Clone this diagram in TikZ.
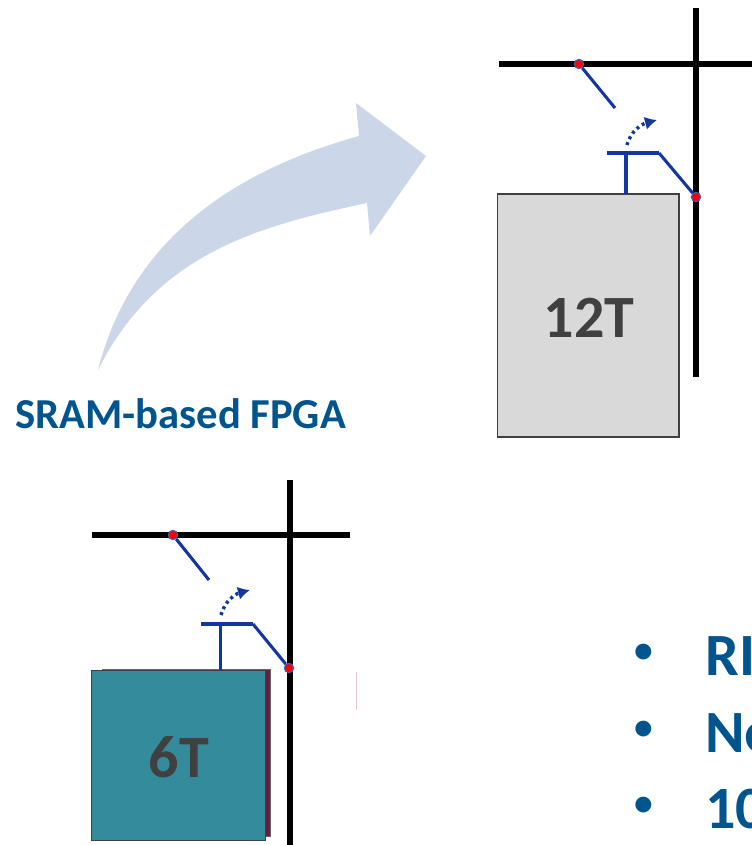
\documentclass[tikz,border=0pt]{standalone}
\usepackage{fontspec}
\setmainfont{Carlito}
\usetikzlibrary{arrows.meta}
\definecolor{titleblue}{HTML}{00558F}
\definecolor{swtblue}{HTML}{1238A0}
\definecolor{curvefill}{HTML}{CBD6E8}
\definecolor{lutgrey}{HTML}{D9D9D9}
\definecolor{lutteal}{HTML}{338B9B}
\definecolor{lutshadow}{HTML}{6A1F3A}
\definecolor{lutedge}{HTML}{404040}
\tikzset{
  wire/.style={line width=3.8pt,black},
  swt/.style={line width=2.3pt,swtblue},
  swtbar/.style={line width=3.2pt,swtblue},
  junction/.style={circle,fill=red,draw=swtblue!80,line width=0.8pt,inner sep=0pt,minimum size=7pt},
  lutbox/.style={draw=lutedge,line width=1pt,inner sep=0pt},
  lutlabel/.style={text=lutedge,font=\fontsize{45}{45}\bfseries},
  flip/.style={line width=2.6pt,swtblue,dash pattern=on 2.2pt off 2.6pt,-{Latex[length=9pt,width=10pt]}},
  bullettext/.style={text=titleblue,anchor=base west,inner sep=0pt,font=\fontsize{45}{45}\bfseries},
  bulletmark/.style={text=titleblue,anchor=center,inner sep=0pt,font=\fontsize{28}{28}\bfseries}
}
\begin{document}
\begin{tikzpicture}[x=0.75pt,y=-0.75pt]
    \clip (0,0) rectangle (752,845);
    % curved arrow
    \fill[curvefill] (98,370) .. controls (135,225) and (255,165) .. (359,136)
        -- (356,103) -- (426,156) -- (370,236) -- (367,203)
        .. controls (265,225) and (158,250) .. (98,370);
    \node[text=titleblue,anchor=base west,inner sep=0pt,font=\fontsize{32}{32}\bfseries] (title) at (15,428) {SRAM-based FPGA};
    % 12T cell
    \coordinate (wireAw) at (499,64);
    \coordinate (wireAe) at (752,64);
    \coordinate (wireAn) at (696,8);
    \coordinate (wireAs) at (696,377);
    \draw[wire] (wireAw) -- (wireAe);
    \draw[wire] (wireAn) -- (wireAs);
    \node[lutbox,fill=lutgrey,minimum width=181.5pt*0.75,minimum height=243pt*0.75] (lutA) at (588.25,315.5) {};
    \node[lutlabel] (lutAtext) at (589,318) {12T};
    \coordinate (armAend) at (615,108);
    \coordinate (barAw) at (607,153);
    \coordinate (barAe) at (659,153);
    \coordinate (barAm) at (626,153);
    \coordinate (barAb) at (626,194);
    \coordinate (flipAs) at (627,145);
    \coordinate (flipAe) at (657,120);
    \node[junction] (dotAa) at (579,64) {};
    \node[junction] (dotAb) at (696,197) {};
    \draw[swt] (dotAa) -- (armAend);
    \draw[swtbar] (barAw) -- (barAe);
    \draw[swt] (barAe) -- (dotAb);
    \draw[swt] (barAm) -- (barAb);
    \draw[flip] (flipAs) to[out=75,in=195] (flipAe);
    % 6T cell
    \coordinate (wireBw) at (92,535);
    \coordinate (wireBe) at (350,535);
    \coordinate (wireBn) at (290,480);
    \coordinate (wireBs) at (290,845);
    \draw[wire] (wireBw) -- (wireBe);
    \draw[wire] (wireBn) -- (wireBs);
    \node[draw=lutedge!80,fill=lutshadow,line width=0.3pt,inner sep=0pt,minimum width=167.5pt*0.75,minimum height=167pt*0.75] (lutBback) at (186.25,752.5) {};
    \node[lutbox,fill=lutteal,minimum width=174pt*0.75,minimum height=170pt*0.75] (lutB) at (178.7,755.7) {};
    \node[lutlabel] (lutBtext) at (179,757) {6T};
    \coordinate (armBend) at (209,580);
    \coordinate (barBw) at (201,624);
    \coordinate (barBe) at (253,624);
    \coordinate (barBm) at (220.5,624);
    \coordinate (barBb) at (220.5,670);
    \coordinate (flipBs) at (221,615);
    \coordinate (flipBe) at (250,590);
    \node[junction] (dotBa) at (173,535) {};
    \node[junction] (dotBb) at (289,668) {};
    \draw[swt] (dotBa) -- (armBend);
    \draw[swtbar] (barBw) -- (barBe);
    \draw[swt] (barBe) -- (dotBb);
    \draw[swt] (barBm) -- (barBb);
    \draw[flip] (flipBs) to[out=75,in=195] (flipBe);
    % faint mark
    \draw[red!40!lutshadow!25,line width=0.7pt] (356,672) -- (356,710);
    % list
    \node[bullettext] (itema) at (705,675) {RI};
    \node[bullettext] (itemb) at (705,752) {Ne};
    \node[bullettext] (itemc) at (705,828) {10};
    \node[bulletmark] (bulleta) at (644,653) {•};
    \node[bulletmark] (bulletb) at (644,730) {•};
    \node[bulletmark] (bulletc) at (644,806) {•};
\end{tikzpicture}
\end{document}
